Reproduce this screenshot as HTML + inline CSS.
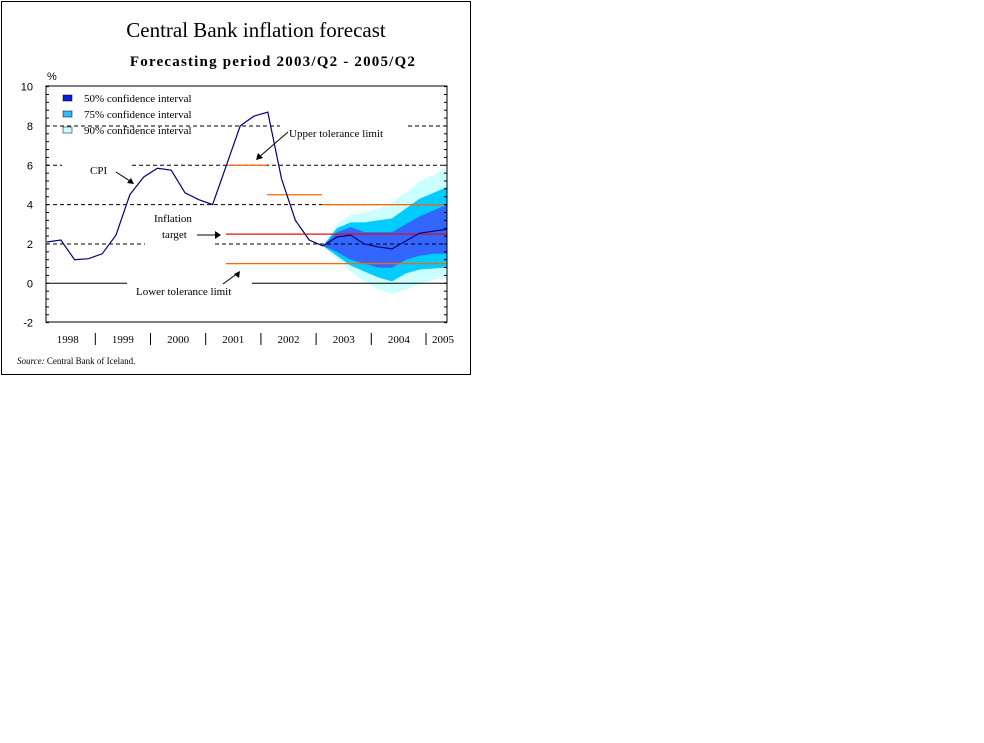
<!DOCTYPE html>
<html><head><meta charset="utf-8"><style>
html,body{margin:0;padding:0;background:#fff;width:984px;height:743px;overflow:hidden}
svg{display:block;font-family:"Liberation Serif",serif}
</style></head><body>
<svg id="chart" width="984" height="743">
<rect x="1.5" y="1.5" width="469" height="373" fill="#fff" stroke="#000"/>
<text x="256" y="37" font-size="21" text-anchor="middle">Central Bank inflation forecast</text>
<text x="273" y="66" font-size="15" font-weight="bold" letter-spacing="1.2" text-anchor="middle">Forecasting period 2003/Q2 - 2005/Q2</text>
<text x="47" y="80" font-size="11" font-family="Liberation Sans">%</text>
<g id="bands"></g><g id="grid"></g><g id="lines"></g><g id="axes"></g>
<g font-size="11">
<rect x="63" y="95" width="9" height="6" fill="#0a1ee0" stroke="#000" stroke-width="0.5"/>
<text x="84" y="102">50% confidence interval</text>
<rect x="63" y="111" width="9" height="6" fill="#33bbff" stroke="#000" stroke-width="0.5"/>
<text x="84" y="118">75% confidence interval</text>
<rect x="63" y="127" width="9" height="6" fill="#ccffff" stroke="#000" stroke-width="0.5"/>
<text x="84" y="134">90% confidence interval</text>
</g>
<g font-size="11">
<text x="90" y="174">CPI</text>
<line x1="116" y1="172" x2="133" y2="183" stroke="#000"/><path d="M134,184 l-7,-1 l4,-5z" fill="#000"/>
<text x="289" y="137">Upper tolerance limit</text>
<line x1="288" y1="132" x2="258" y2="158" stroke="#000"/><path d="M256,160 l2,-7 l5,5z" fill="#000"/>
<text x="154" y="222">Inflation</text>
<text x="162" y="238">target</text>
<line x1="197" y1="235" x2="215" y2="235" stroke="#000"/><path d="M221,235 l-6,-4 l0,8z" fill="#000"/>
<text x="136" y="295">Lower tolerance limit</text>
<line x1="223" y1="284" x2="238" y2="273" stroke="#000"/><path d="M240,271 l-1,7 l-5,-4z" fill="#000"/>
<text x="17" y="364" font-size="9"><tspan font-style="italic">Source:</tspan> Central Bank of Iceland.</text>
</g>
</svg>
<script>
const yTicks=[10,8,6,4,2,0,-2];
const years=["1998","1999","2000","2001","2002","2003","2004","2005"];
const cpi=[2.1,2.2,1.2,1.25,1.5,2.45,4.5,5.4,5.85,5.75,4.6,4.25,4.0,6.0,8.0,8.5,8.7,5.3,3.2,2.2,1.9];
const fcMid=[1.9,2.35,2.45,2.0,1.85,1.75,2.15,2.55,2.65,2.75];
const b50lo=[1.9,1.6,1.2,1.0,0.8,0.8,1.2,1.4,1.5,1.5];
const b50hi=[1.9,2.6,2.85,2.6,2.6,2.6,3.0,3.4,3.7,4.0];
const b75lo=[1.9,1.4,0.9,0.6,0.3,0.1,0.5,0.7,0.75,0.8];
const b75hi=[1.9,2.8,3.1,3.1,3.2,3.3,3.8,4.3,4.6,4.9];
const b90lo=[1.9,1.2,0.6,0.1,-0.3,-0.55,-0.3,-0.05,0.2,0.3];
const b90hi=[1.9,3.0,3.5,3.6,3.8,4.1,4.6,5.2,5.5,5.9];
const fcStart=20;
const NS="http://www.w3.org/2000/svg";
const X0=47,DX=13.8,L=46,R=447,T=86,B=322;
const x=i=>X0+i*DX;
const y=v=>283.3-v*19.67;
function mk(tag,attrs,parent){const e=document.createElementNS(NS,tag);for(const k in attrs)e.setAttribute(k,attrs[k]);document.getElementById(parent).appendChild(e);return e;}
function band(lo,hi,fill,name){let p=hi.map((v,k)=>x(fcStart+k)+","+y(v));for(let k=lo.length-1;k>=0;k--)p.push(x(fcStart+k)+","+y(lo[k]));
const e=mk("polygon",{points:p.join(" "),fill:fill},"bands");

}
band(b90lo,b90hi,"#ccffff","band-90");
band(b75lo,b75hi,"#00ccff","band-75");
band(b50lo,b50hi,"#3366ff","band-50");
// gridlines (segments with gaps around labels)
const gridSegs={8:[[L,280],[408,R]],6:[[L,62],[132,R]],4:[[L,R]],2:[[L,145],[215,R]]};
[8,6,4,2].forEach(v=>{gridSegs[v].forEach(s=>{const e=mk("line",{x1:s[0],x2:s[1],y1:y(v),y2:y(v),stroke:"#000","stroke-dasharray":"4,3"},"grid");

});});
[[L,127],[252,R]].forEach(s=>{const e=mk("line",{x1:s[0],x2:s[1],y1:y(0),y2:y(0),stroke:"#000"},"grid");

});
function hl(v,i0,i1,c,n){const e=mk("line",{x1:i0,x2:i1,y1:y(v),y2:y(v),stroke:c,"stroke-width":1.3},"lines");

}
hl(6,226,267,"#ff6600","upper-limit-2001");
hl(4.5,267,322,"#ff6600","upper-limit-2002");
hl(4,322,R,"#ff6600","upper-limit-2003");
hl(2.5,226,R,"#dd1111","inflation-target-line");
hl(1,226,R,"#ff6600","lower-limit-line");
const c=mk("polyline",{points:cpi.map((v,i)=>x(i)+","+y(v)).join(" "),fill:"none",stroke:"#000080","stroke-width":1.2},"lines");


const f=mk("polyline",{points:fcMid.map((v,k)=>x(fcStart+k)+","+y(v)).join(" "),fill:"none",stroke:"#000080","stroke-width":1.2},"lines");


const ax=mk("rect",{x:L,y:T,width:R-L,height:B-T,fill:"none",stroke:"#000"},"axes");


yTicks.forEach(v=>{const t=mk("text",{x:33,y:y(v)+4,"font-size":11,"font-family":"Liberation Sans","text-anchor":"end"},"axes");t.textContent=v;


for(let m=0;m<5;m++){const vv=v-m*0.4;if(vv<-2)break;mk("line",{x1:L,x2:L+3,y1:y(vv),y2:y(vv),stroke:"#000"},"axes");mk("line",{x1:R-3,x2:R,y1:y(vv),y2:y(vv),stroke:"#000"},"axes");}});
years.forEach((yr,k)=>{const xc=k<7?x(k*4+1.5):443;
const t=mk("text",{x:xc,y:343,"font-size":11,"text-anchor":"middle"},"axes");t.textContent=yr;


if(k>0){const sx=k<7?x(k*4-0.5):426;const s=mk("line",{x1:sx,x2:sx,y1:333,y2:345,stroke:"#000"},"axes");

}});
</script>
</body></html>
